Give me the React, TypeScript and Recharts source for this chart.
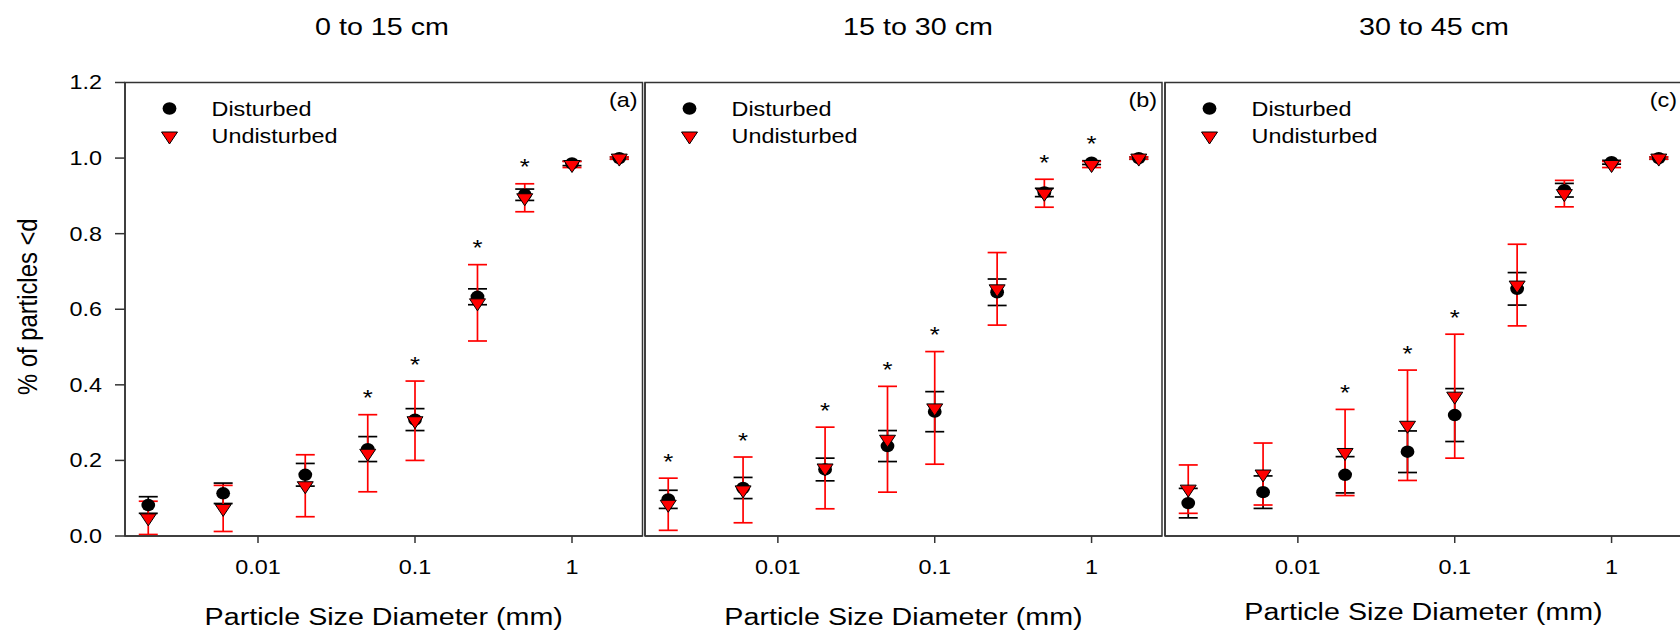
import React from 'react';
import { ScatterChart, Scatter, XAxis, YAxis, ErrorBar, ReferenceArea, Label, Legend } from 'recharts';

// ---------- data ----------
const particleSizes = [0.002, 0.006, 0.02, 0.05, 0.1, 0.25, 0.5, 1, 2];
const xTickValues = [0.01, 0.1, 1];
const yTickValues = [0, 0.2, 0.4, 0.6, 0.8, 1.0, 1.2];
const depthTitles = ['0 to 15 cm', '15 to 30 cm', '30 to 45 cm'];
const panelTags = ['(a)', '(b)', '(c)'];
const seriesNames = ['Disturbed', 'Undisturbed'];
const xAxisTitle = 'Particle Size Diameter (mm)';
const yAxisTitle = '% of particles <d';

// panel (a) 0 to 15 cm
const disturbedA = [0.082, 0.113, 0.162, 0.23, 0.308, 0.633, 0.903, 0.986, 1.0];
const disturbedErrA = [0.022, 0.027, 0.03, 0.033, 0.029, 0.021, 0.015, 0.006, 0.003];
const undisturbedA = [0.048, 0.073, 0.133, 0.219, 0.305, 0.617, 0.895, 0.983, 1.0];
const undisturbedErrA = [0.044, 0.061, 0.082, 0.102, 0.105, 0.101, 0.037, 0.008, 0.003];
const significantA = [0, 0, 0, 1, 1, 1, 1, 0, 0];

// panel (b) 15 to 30 cm
const disturbedB = [0.097, 0.127, 0.176, 0.238, 0.329, 0.645, 0.909, 0.988, 1.0];
const disturbedErrB = [0.024, 0.028, 0.03, 0.041, 0.053, 0.035, 0.011, 0.005, 0.003];
const undisturbedB = [0.084, 0.122, 0.18, 0.256, 0.339, 0.654, 0.907, 0.983, 1.0];
const undisturbedErrB = [0.069, 0.087, 0.108, 0.14, 0.149, 0.096, 0.037, 0.008, 0.003];
const significantB = [1, 1, 1, 1, 1, 0, 1, 1, 0];

// panel (c) 30 to 45 cm
const disturbedC = [0.087, 0.116, 0.162, 0.223, 0.32, 0.654, 0.915, 0.989, 1.0];
const disturbedErrC = [0.039, 0.043, 0.048, 0.055, 0.07, 0.043, 0.018, 0.005, 0.003];
const undisturbedC = [0.124, 0.164, 0.221, 0.293, 0.37, 0.664, 0.906, 0.983, 1.0];
const undisturbedErrC = [0.064, 0.082, 0.114, 0.146, 0.164, 0.108, 0.035, 0.008, 0.003];
const significantC = [0, 0, 1, 1, 1, 0, 0, 0, 0];

// ---------- styling / layout ----------
const FONT = "'Liberation Sans', Arial, Helvetica, sans-serif";
const SX = 1.17; // horizontal stretch of the lettering in the original figure
const AXIS_COLOR = '#333333';
const RED = '#ff0000';
const X_DOMAIN: [number, number] = [0.001422, 2.812];
const Y_DOMAIN: [number, number] = [0, 1.2];
const CHART_H = 631;
const MARGIN_TOP = 82.5;
const MARGIN_BOTTOM = 35;
const X_AXIS_H = 60;

const PANEL_LAYOUT = [
  { left: 0, width: 650, marginLeft: 65, marginRight: 7.5, yWidth: 60, showY: true, xLabelDy: 89, titleCx: 382 },
  { left: 640, width: 530, marginLeft: 4, marginRight: 8, yWidth: 1, showY: false, xLabelDy: 89, titleCx: 918 },
  { left: 1160, width: 530, marginLeft: 4, marginRight: 8, yWidth: 1, showY: false, xLabelDy: 84, titleCx: 1434 },
];

const PANELS = [
  { dist: disturbedA, distErr: disturbedErrA, und: undisturbedA, undErr: undisturbedErrA, sig: significantA },
  { dist: disturbedB, distErr: disturbedErrB, und: undisturbedB, undErr: undisturbedErrB, sig: significantB },
  { dist: disturbedC, distErr: disturbedErrC, und: undisturbedC, undErr: undisturbedErrC, sig: significantC },
];

// ---------- helpers ----------
function WText(props: {
  x: number;
  y: number;
  size: number;
  anchor?: 'start' | 'middle' | 'end';
  baseline?: string;
  rotate?: number;
  children: any;
}) {
  const { x, y, size, anchor = 'start', baseline, rotate, children } = props;
  return (
    <text
      transform={`translate(${x},${y}) scale(${SX},1)${rotate ? ` rotate(${rotate})` : ''}`}
      x={0}
      y={0}
      textAnchor={anchor}
      dominantBaseline={baseline as any}
      fontSize={size}
      fontFamily={FONT}
      fill="#000"
    >
      {children}
    </text>
  );
}

const CircleShape = (p: any) => {
  if (p.cx == null || p.cy == null) return <g />;
  return <ellipse cx={p.cx} cy={p.cy} rx={6.9} ry={6.2} fill="#000" />;
};

const TriangleShape = (p: any) => {
  if (p.cx == null || p.cy == null) return <g />;
  const { cx, cy } = p;
  const hw = 8;
  return (
    <polygon
      points={`${cx - hw},${cy - 4} ${cx + hw},${cy - 4} ${cx},${cy + 8}`}
      fill={RED}
      stroke="#000"
      strokeWidth={1}
    />
  );
};

const AsteriskShape = (p: any) => {
  if (p.cx == null || p.cy == null) return <g />;
  return (
    <WText x={p.cx} y={p.cy - 9.5} size={22} anchor="middle">
      *
    </WText>
  );
};

const XTick = (p: any) => (
  <WText x={p.x} y={p.y + 14.3} size={20} anchor="middle">
    {String(p.payload.value)}
  </WText>
);

const YTick = (p: any) => (
  <WText x={p.x} y={p.y} size={20} anchor="end" baseline="central">
    {Number(p.payload.value).toFixed(1)}
  </WText>
);

const LegendBox = () => (
  <svg width={200} height={56} style={{ overflow: 'visible', display: 'block' }}>
    <ellipse cx={14.5} cy={13.5} rx={6.9} ry={6.2} fill="#000" />
    <polygon points={`${14.5 - 8},${41 - 4} ${14.5 + 8},${41 - 4} ${14.5},${41 + 8}`} fill={RED} stroke="#000" strokeWidth={1} />
    <WText x={56.5} y={14} size={20} baseline="central">
      {seriesNames[0]}
    </WText>
    <WText x={56.5} y={41} size={20} baseline="central">
      {seriesNames[1]}
    </WText>
  </svg>
);

function Panel({ idx }: { idx: number }) {
  const lay = PANEL_LAYOUT[idx];
  const d = PANELS[idx];
  const distRows = particleSizes.map((x, i) => ({ x, y: d.dist[i], err: d.distErr[i] }));
  const undRows = particleSizes.map((x, i) => ({ x, y: d.und[i], err: d.undErr[i] }));
  const sigRows = particleSizes
    .map((x, i) => ({ x, y: Math.max(d.und[i] + d.undErr[i], d.dist[i] + d.distErr[i]), s: d.sig[i] }))
    .filter((r) => r.s === 1);

  const plotLeft = lay.marginLeft + lay.yWidth;

  const tagContent = (props: any) => {
    const vb = props.viewBox || {};
    return (
      <WText x={vb.x + vb.width - 5} y={vb.y + 24.5} size={20} anchor="end">
        {panelTags[idx]}
      </WText>
    );
  };

  const xLabelContent = (props: any) => {
    const vb = props.viewBox || {};
    return (
      <WText x={vb.x + vb.width / 2} y={vb.y + lay.xLabelDy} size={24.5} anchor="middle">
        {xAxisTitle}
      </WText>
    );
  };

  const yLabelContent = (props: any) => {
    const vb = props.viewBox || {};
    return (
      <WText x={27} y={vb.y + vb.height / 2 - 2.5} size={23.8} anchor="middle" baseline="central" rotate={-90}>
        {yAxisTitle}
      </WText>
    );
  };

  return (
    <div style={{ position: 'absolute', left: lay.left, top: 0, width: lay.width, height: CHART_H }}>
      <ScatterChart
        width={lay.width}
        height={CHART_H}
        margin={{ top: MARGIN_TOP, right: lay.marginRight, bottom: MARGIN_BOTTOM, left: lay.marginLeft }}
      >
        <XAxis
          type="number"
          dataKey="x"
          scale="log"
          domain={X_DOMAIN}
          allowDataOverflow
          ticks={xTickValues}
          interval={0}
          height={X_AXIS_H}
          tickSize={7}
          tickMargin={17}
          axisLine={{ stroke: AXIS_COLOR, strokeWidth: 1.5 }}
          tickLine={{ stroke: AXIS_COLOR, strokeWidth: 1.5 }}
          tick={XTick}
        >
          <Label content={xLabelContent} />
        </XAxis>
        <YAxis
          type="number"
          dataKey="y"
          domain={Y_DOMAIN}
          allowDataOverflow
          ticks={yTickValues}
          interval={0}
          width={lay.yWidth}
          tickSize={lay.showY ? 10 : -10}
          tickMargin={13}
          axisLine={{ stroke: AXIS_COLOR, strokeWidth: 1.5 }}
          tickLine={{ stroke: AXIS_COLOR, strokeWidth: 1.5 }}
          tick={lay.showY ? YTick : false}
        >
          {lay.showY ? <Label content={yLabelContent} /> : null}
        </YAxis>
        <ReferenceArea
          x1={X_DOMAIN[0]}
          x2={X_DOMAIN[1]}
          y1={Y_DOMAIN[0]}
          y2={Y_DOMAIN[1]}
          fill="none"
          fillOpacity={0}
          stroke={AXIS_COLOR}
          strokeWidth={1.5}
          ifOverflow="visible"
          label={tagContent}
        />
        <Legend
          verticalAlign="middle"
          align="center"
          layout="horizontal"
          content={() => <LegendBox />}
          wrapperStyle={{ position: 'absolute', left: plotLeft + 30, top: 95, width: 200, height: 56 }}
        />
        <Scatter name={seriesNames[0]} data={distRows} shape={CircleShape} isAnimationActive={false}>
          <ErrorBar dataKey="err" direction="y" stroke="#000" strokeWidth={1.7} width={9.5} />
        </Scatter>
        <Scatter name={seriesNames[1]} data={undRows} shape={TriangleShape} isAnimationActive={false}>
          <ErrorBar dataKey="err" direction="y" stroke={RED} strokeWidth={1.7} width={9.5} />
        </Scatter>
        <Scatter name="sig" data={sigRows} shape={AsteriskShape} legendType="none" isAnimationActive={false} />
      </ScatterChart>
    </div>
  );
}

export default function App() {
  return (
    <div
      style={{
        position: 'absolute',
        left: 0,
        top: 0,
        width: 1680,
        height: CHART_H,
        overflow: 'hidden',
        background: '#fff',
        fontFamily: FONT,
      }}
    >
      {depthTitles.map((t, i) => (
        <div
          key={t}
          style={{
            position: 'absolute',
            left: PANEL_LAYOUT[i].titleCx - 150,
            top: 14.8,
            width: 300,
            textAlign: 'center',
            fontSize: 24.5,
            lineHeight: '24.5px',
            color: '#000',
            fontFamily: FONT,
            transform: `scaleX(${SX})`,
            transformOrigin: '50% 50%',
          }}
        >
          {t}
        </div>
      ))}
      {[0, 1, 2].map((i) => (
        <Panel key={i} idx={i} />
      ))}
    </div>
  );
}
